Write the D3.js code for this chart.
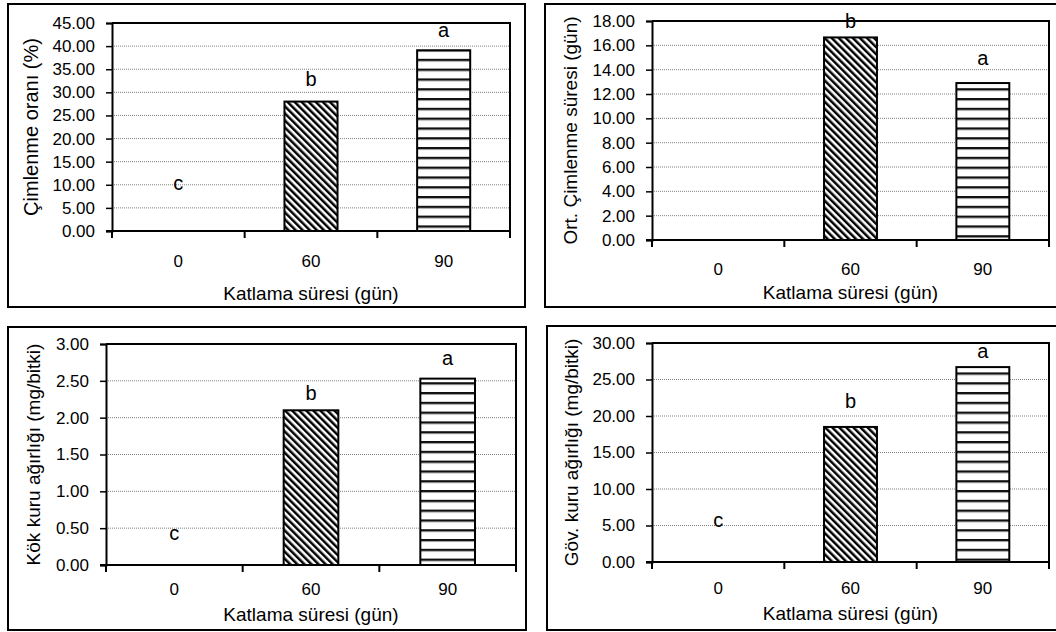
<!DOCTYPE html>
<html>
<head>
<meta charset="utf-8">
<script src="https://cdn.jsdelivr.net/npm/d3@7"></script>
<style>
  html, body { margin: 0; padding: 0; background: #fff; }
  svg { display: block; }
  text { font-family: "Liberation Sans", Arial, sans-serif; fill: #000; }
</style>
</head>
<body>
<script>
const width = 1056;
const height = 632;

// Chart data
const categories = ["0", "60", "90"];
const xTitle = "Katlama süresi (gün)";

const germRate = [0, 28.0, 39.1];
const germRateLetters = ["c", "b", "a"];
const germRateLetterAt = [8.9, 31.4, 42.0];
const germRateTicks = [0, 5, 10, 15, 20, 25, 30, 35, 40, 45];

const meanGermTime = [0, 16.65, 12.9];
const meanGermTimeLetters = ["", "b", "a"];
const meanGermTimeLetterAt = [0, 17.45, 14.4];
const meanGermTimeTicks = [0, 2, 4, 6, 8, 10, 12, 14, 16, 18];

const rootDryWeight = [0, 2.10, 2.53];
const rootDryWeightLetters = ["c", "b", "a"];
const rootDryWeightLetterAt = [0.34, 2.24, 2.71];
const rootDryWeightTicks = [0, 0.5, 1, 1.5, 2, 2.5, 3];

const stemDryWeight = [0, 18.5, 26.7];
const stemDryWeightLetters = ["c", "b", "a"];
const stemDryWeightLetterAt = [4.8, 21.1, 27.9];
const stemDryWeightTicks = [0, 5, 10, 15, 20, 25, 30];

// Where each of the four panels sits on the page
const panels = [
  {
    values: germRate, letters: germRateLetters, letterAt: germRateLetterAt,
    ticks: germRateTicks, yTitle: "Çimlenme oranı (%)", yTitleSize: 20,
    frame: [8, 4, 517, 303], plot: [112, 510, 23, 231],
    tickLabelY: 261, titleY: 293, yTitleX: 31
  },
  {
    values: meanGermTime, letters: meanGermTimeLetters, letterAt: meanGermTimeLetterAt,
    ticks: meanGermTimeTicks, yTitle: "Ort. Çimlenme süresi (gün)", yTitleSize: 19,
    frame: [545, 4, 520, 303], plot: [652, 1049, 21, 240],
    tickLabelY: 269, titleY: 292, yTitleX: 570
  },
  {
    values: rootDryWeight, letters: rootDryWeightLetters, letterAt: rootDryWeightLetterAt,
    ticks: rootDryWeightTicks, yTitle: "Kök kuru ağırlığı (mg/bitki)", yTitleSize: 19,
    frame: [8, 327, 518, 303], plot: [106, 516, 344, 565],
    tickLabelY: 589, titleY: 614, yTitleX: 33
  },
  {
    values: stemDryWeight, letters: stemDryWeightLetters, letterAt: stemDryWeightLetterAt,
    ticks: stemDryWeightTicks, yTitle: "Göv. kuru ağırlığı (mg/bitki)", yTitleSize: 19,
    frame: [547, 326, 520, 304], plot: [652, 1049, 343, 562],
    tickLabelY: 588, titleY: 613, yTitleX: 571
  }
];

const svg = d3
  .select("body")
  .append("svg")
  .attr("width", width)
  .attr("height", height);

// Fill patterns: diagonal stripes for 60, horizontal lines for 90
const defs = svg.append("defs");

const diag = defs
  .append("pattern")
  .attr("id", "diag")
  .attr("patternUnits", "userSpaceOnUse")
  .attr("width", 5)
  .attr("height", 5)
  .attr("patternTransform", "rotate(-45)");
diag.append("rect").attr("width", 5).attr("height", 5).attr("fill", "#fff");
diag.append("rect").attr("width", 2.5).attr("height", 5).attr("fill", "#000");

const horiz = defs
  .append("pattern")
  .attr("id", "horiz")
  .attr("patternUnits", "userSpaceOnUse")
  .attr("width", 10)
  .attr("height", 9.8);
horiz.append("rect").attr("width", 10).attr("height", 9.8).attr("fill", "#fff");
horiz.append("rect").attr("y", 0).attr("width", 10).attr("height", 2).attr("fill", "#111");
horiz.append("rect").attr("y", 2).attr("width", 10).attr("height", 1).attr("fill", "#999");

const fills = ["#fff", "url(#diag)", "url(#horiz)"];

function drawPanel(p) {
  const [x0, x1, y0, y1] = p.plot;
  const g = svg.append("g");

  // outer frame
  g.append("rect")
    .attr("x", p.frame[0])
    .attr("y", p.frame[1])
    .attr("width", p.frame[2])
    .attr("height", p.frame[3])
    .attr("fill", "#fff")
    .attr("stroke", "#000")
    .attr("stroke-width", 2);

  const x = d3.scaleBand().domain(categories).range([x0, x1]).paddingInner(0).paddingOuter(0);
  const y = d3
    .scaleLinear()
    .domain([0, d3.max(p.ticks)])
    .range([y1, y0]);

  // dotted gridlines
  g.selectAll(".grid")
    .data(p.ticks.slice(1, -1))
    .join("line")
    .attr("x1", x0)
    .attr("x2", x1)
    .attr("y1", (d) => y(d))
    .attr("y2", (d) => y(d))
    .attr("stroke", "#808080")
    .attr("stroke-width", 1)
    .attr("stroke-dasharray", "1,1");

  // bars (middle 40% of each category), the 0 day group has no bar
  const barW = x.bandwidth() * 0.4;
  const bars = categories
    .map((c, i) => ({ cat: c, value: p.values[i], fill: fills[i] }))
    .filter((d) => d.value > 0);
  g.selectAll(".bar")
    .data(bars)
    .join("rect")
    .attr("x", (d) => x(d.cat) + (x.bandwidth() - barW) / 2)
    .attr("y", (d) => y(d.value))
    .attr("width", barW)
    .attr("height", (d) => y1 - y(d.value))
    .attr("fill", (d) => d.fill)
    .attr("stroke", "#000")
    .attr("stroke-width", 2);

  // plot area border on top and right
  g.append("path")
    .attr("d", `M${x0},${y0}H${x1}V${y1}`)
    .attr("fill", "none")
    .attr("stroke", "#000")
    .attr("stroke-width", 2);

  // y axis
  const yAxis = d3
    .axisLeft(y)
    .tickValues(p.ticks)
    .tickSize(6)
    .tickPadding(11)
    .tickFormat(d3.format(".2f"));
  const ya = g.append("g").attr("transform", `translate(${x0},0)`).call(yAxis);
  ya.select(".domain").attr("stroke-width", 2);
  ya.selectAll(".tick line").attr("stroke-width", 1.5);
  ya.selectAll("text").attr("font-size", 17).attr("font-family", null);

  // x axis: ticks at the category boundaries, labels in the middle
  const bounds = categories.map((c) => x(c)).concat([x1]);
  g.append("line")
    .attr("x1", x0 - 6)
    .attr("x2", x1)
    .attr("y1", y1)
    .attr("y2", y1)
    .attr("stroke", "#000")
    .attr("stroke-width", 2);
  g.selectAll(".xtick")
    .data(bounds)
    .join("line")
    .attr("x1", (d) => d)
    .attr("x2", (d) => d)
    .attr("y1", y1)
    .attr("y2", y1 + 7)
    .attr("stroke", "#000")
    .attr("stroke-width", 2);
  g.selectAll(".xlabel")
    .data(categories)
    .join("text")
    .attr("x", (d) => x(d) + x.bandwidth() / 2)
    .attr("y", p.tickLabelY)
    .attr("dy", "0.35em")
    .attr("text-anchor", "middle")
    .attr("font-size", 17)
    .text((d) => d);

  // significance letters
  g.selectAll(".letter")
    .data(p.letters)
    .join("text")
    .attr("x", (d, i) => x(categories[i]) + x.bandwidth() / 2)
    .attr("y", (d, i) => y(p.letterAt[i]))
    .attr("text-anchor", "middle")
    .attr("font-size", 20)
    .text((d) => d);

  // axis titles
  g.append("text")
    .attr("x", (x0 + x1) / 2)
    .attr("y", p.titleY)
    .attr("dy", "0.35em")
    .attr("text-anchor", "middle")
    .attr("font-size", 19)
    .text(xTitle);

  g.append("text")
    .attr("transform", `translate(${p.yTitleX},${(y0 + y1) / 2}) rotate(-90)`)
    .attr("dy", "0.35em")
    .attr("text-anchor", "middle")
    .attr("font-size", p.yTitleSize)
    .text(p.yTitle);
}

panels.forEach(drawPanel);
</script>
</body>
</html>
